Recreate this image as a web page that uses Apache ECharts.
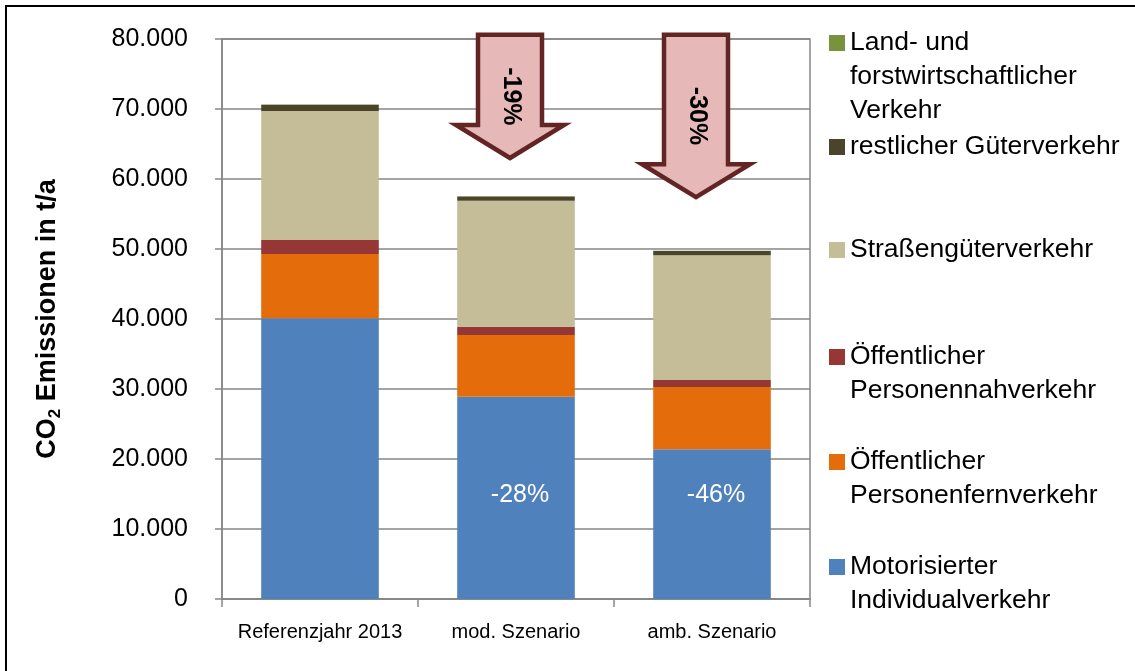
<!DOCTYPE html>
<html>
<head>
<meta charset="utf-8">
<script src="https://cdn.jsdelivr.net/npm/echarts@6/dist/echarts.min.js"></script>
<style>
  html, body { margin: 0; padding: 0; background: #fff; }
  #charts { width: 1135px; height: 671px; }
</style>
</head>
<body>
<div id="charts"></div>
<script>
var categories = ['Referenzjahr 2013', 'mod. Szenario', 'amb. Szenario'];

// CO2 Emissionen in t/a je Sektor
var motorisiert = [40100, 28900, 21400];
var fernverkehr = [9200, 8800, 8900];
var nahverkehr = [2000, 1200, 1000];
var strassengueter = [18400, 18000, 17800];
var restGueter = [900, 600, 600];
var landForst = [60, 50, 50];

var barLabels = ['', '-28%', '-46%'];

// Pfeile: Start- und Endwert in t/a
var arrowCats = [1, 2];
var arrowFrom = [80600, 80600];
var arrowTo = [63000, 57400];
var arrowLabels = ['-19%', '-30%'];

var yMax = 80000;
var yStep = 10000;

var names = [
  'Motorisierter Individualverkehr',
  'Öffentlicher Personenfernverkehr',
  'Öffentlicher Personennahverkehr',
  'Straßengüterverkehr',
  'restlicher Güterverkehr',
  'Land- und forstwirtschaftlicher Verkehr'
];
var legendLines = [
  ['Motorisierter', 'Individualverkehr'],
  ['Öffentlicher', 'Personenfernverkehr'],
  ['Öffentlicher', 'Personennahverkehr'],
  ['Straßengüterverkehr'],
  ['restlicher Güterverkehr'],
  ['Land- und', 'forstwirtschaftlicher', 'Verkehr']
];
var colors = ['#4F81BD', '#E46C0A', '#953735', '#C4BD97', '#4A452A', '#77933C'];
var values = [motorisiert, fernverkehr, nahverkehr, strassengueter, restGueter, landForst];

var FONT = 'Liberation Sans';
var lineH = 34;
// Mitte der ersten Legendenzeile
var legendFirstLine = [567, 462, 357, 250, 147, 43];
// Pfeile etwas links von der Balkenmitte
var arrowShift = [-6, -16];

function germanNumber(v) {
  return String(v).replace(/\B(?=(\d{3})+(?!\d))/g, '.');
}

function legendText(name) {
  var lines = legendLines[names.indexOf(name)];
  var pad = '';
  for (var i = 1; i < lines.length; i++) pad += '\n';
  return pad + lines.join('\n');
}

var legends = [];
for (var i = 0; i < names.length; i++) {
  var n = legendLines[i].length;
  legends.push({
    data: [names[i]],
    left: 829,
    top: legendFirstLine[i] - lineH / 2 * (2 * n - 1),
    padding: 0,
    orient: 'vertical',
    icon: 'rect',
    itemWidth: 16,
    itemHeight: 16,
    formatter: legendText,
    textStyle: { fontFamily: FONT, fontSize: 26.5, lineHeight: lineH, color: '#000' }
  });
}

var series = [];
for (var i = 0; i < names.length; i++) {
  var s = {
    name: names[i],
    type: 'bar',
    stack: 'co2',
    barWidth: '60%',
    itemStyle: { color: colors[i] },
    data: values[i]
  };
  if (i == 0) {
    s.label = {
      show: true,
      position: 'insideBottom',
      distance: 91,
      offset: [4, 0],
      color: '#fff',
      fontFamily: FONT,
      fontSize: 25,
      formatter: function (p) { return barLabels[p.dataIndex]; }
    };
  }
  series.push(s);
}

var arrowData = [];
for (var i = 0; i < arrowCats.length; i++) {
  arrowData.push([arrowCats[i], arrowFrom[i], arrowTo[i]]);
}

function renderArrow(params, api) {
  var top = api.coord([api.value(0), api.value(1)]);
  var tip = api.coord([api.value(0), api.value(2)]);
  var x = top[0] + arrowShift[params.dataIndex];
  var y0 = top[1], y1 = tip[1];
  var sw = 32, hw = 54, hh = 33;
  return {
    type: 'group',
    children: [{
      type: 'polygon',
      shape: {
        points: [[x - sw, y0], [x + sw, y0], [x + sw, y1 - hh], [x + hw, y1 - hh],
                 [x, y1], [x - hw, y1 - hh], [x - sw, y1 - hh]]
      },
      style: { fill: '#E6B9B8', stroke: '#632523', lineWidth: 4.5, lineJoin: 'miter' }
    }, {
      type: 'text',
      x: x + 1,
      y: (y0 + y1) / 2,
      rotation: -Math.PI / 2,
      style: {
        text: arrowLabels[params.dataIndex],
        fontFamily: FONT,
        fontSize: 25,
        fontWeight: 'bold',
        fill: '#000',
        align: 'center',
        verticalAlign: 'middle'
      }
    }]
  };
}

series.push({
  type: 'custom',
  renderItem: renderArrow,
  encode: { x: 0, y: [1, 2] },
  z: 10,
  clip: false,
  silent: true,
  data: arrowData
});

var chart = echarts.init(document.getElementById('charts'));
chart.setOption({
  animation: false,
  color: colors,
  grid: {
    left: 222, right: 325, top: 39, bottom: 72,
    show: true, borderColor: '#868686', borderWidth: 1.5
  },
  graphic: [{
    type: 'rect',
    shape: { x: 6, y: 6, width: 1200, height: 700 },
    style: { fill: 'none', stroke: '#000', lineWidth: 2 },
    silent: true
  }],
  legend: legends,
  xAxis: {
    type: 'category',
    data: categories,
    axisLine: { lineStyle: { color: '#868686', width: 1.5 } },
    axisTick: { show: true, length: 8, lineStyle: { color: '#868686', width: 1.5 } },
    axisLabel: { color: '#000', fontFamily: FONT, fontSize: 20, margin: 23, interval: 0, hideOverlap: false }
  },
  yAxis: {
    type: 'value',
    min: 0,
    max: yMax,
    interval: yStep,
    name: '{b|CO}{s|2}{b| Emissionen in t/a}',
    nameLocation: 'middle',
    nameGap: 158,
    nameRotate: 90,
    nameMoveOverlap: false,
    nameTextStyle: {
      rich: {
        b: { fontFamily: FONT, fontSize: 27, fontWeight: 'bold', color: '#000', lineHeight: 32 },
        s: { fontFamily: FONT, fontSize: 17, fontWeight: 'bold', color: '#000', lineHeight: 17, verticalAlign: 'bottom' }
      }
    },
    axisLine: { show: true, lineStyle: { color: '#868686', width: 1.5 } },
    axisTick: { show: true, length: 7, lineStyle: { color: '#868686', width: 1.5 } },
    splitLine: { lineStyle: { color: '#868686', width: 1.5 } },
    axisLabel: { color: '#000', fontFamily: FONT, fontSize: 25, margin: 34, formatter: germanNumber }
  },
  series: series
});
</script>
</body>
</html>
